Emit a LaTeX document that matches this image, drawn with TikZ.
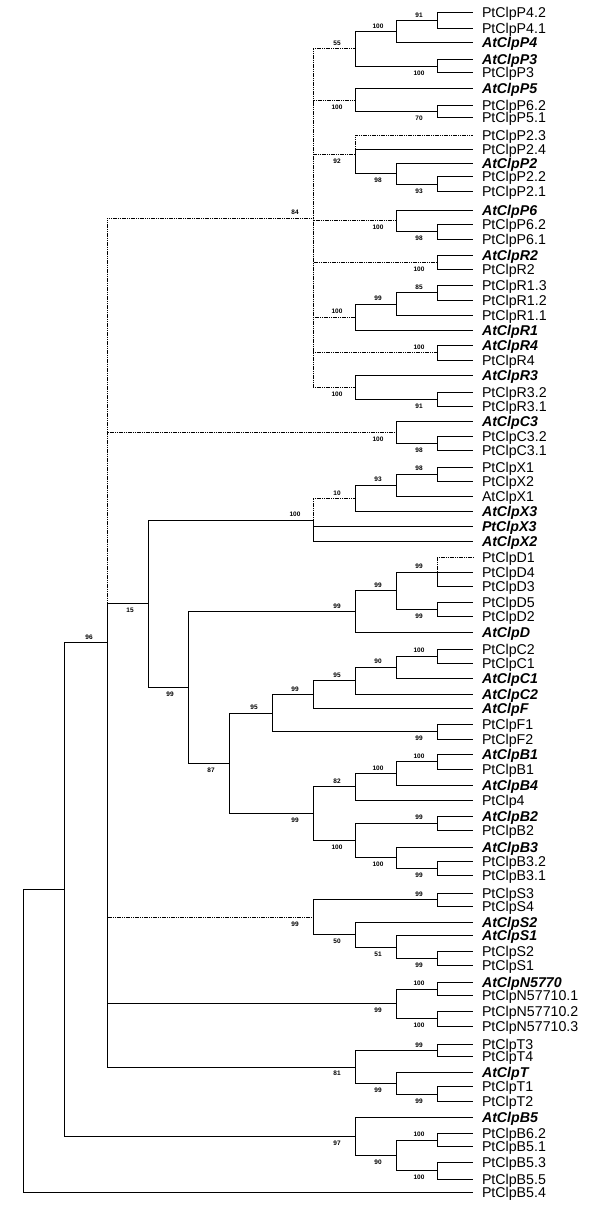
\documentclass[tikz,border=0pt]{standalone}
\usepackage{fontspec}
\setmainfont{Liberation Sans}
\usepackage{tikz}
\newcommand\ptfont{\fontsize{14.2}{14.2}\selectfont}
\newcommand\atfont{\fontsize{14.2}{14.2}\selectfont\bfseries\itshape}
\tikzset{
  br/.style={line width=0.8pt},
  weak/.style={line width=0.8pt,dash pattern=on 1.2pt off 0.6pt},
  tip/.style={anchor=west,inner xsep=9pt,inner ysep=0pt,outer sep=0pt,text depth=0pt},
  bs/.style={font=\fontsize{6.5}{6.5}\selectfont\bfseries,inner sep=0pt,xshift=-18pt},
  bsup/.style={bs,yshift=5.5pt},
  bsdn/.style={bs,yshift=-6.8pt}
}
% parent to children, |- branches
\newcommand\clade[3][br]{\foreach \c in {#3} \draw[#1] (#2) |- (\c);}
\newcommand\boot[3]{\node[bs#3] (bs-#1) at (#1) {#2};}

\begin{document}
\begin{tikzpicture}[x=1pt,y=-1pt]
\useasboundingbox (0,0) rectangle (600,1212);
% leaves
\foreach \y/\f/\n [count=\i] in {
  12.7/\ptfont/PtClpP4.2, 28/\ptfont/PtClpP4.1, 42.7/\atfont/AtClpP4,
  59.3/\atfont/AtClpP3, 72.7/\ptfont/PtClpP3,
  88.3/\atfont/AtClpP5, 105.7/\ptfont/PtClpP6.2, 117.7/\ptfont/PtClpP5.1,
  135/\ptfont/PtClpP2.3, 149/\ptfont/PtClpP2.4, 163.3/\atfont/AtClpP2, 176.7/\ptfont/PtClpP2.2, 191.7/\ptfont/PtClpP2.1,
  210/\atfont/AtClpP6, 224/\ptfont/PtClpP6.2, 239.3/\ptfont/PtClpP6.1,
  255.7/\atfont/AtClpR2, 269/\ptfont/PtClpR2,
  285.7/\ptfont/PtClpR1.3, 300/\ptfont/PtClpR1.2, 315.3/\ptfont/PtClpR1.1, 330/\atfont/AtClpR1,
  345/\atfont/AtClpR4, 360.7/\ptfont/PtClpR4,
  375/\atfont/AtClpR3, 392.3/\ptfont/PtClpR3.2, 406/\ptfont/PtClpR3.1,
  421.7/\atfont/AtClpC3, 436/\ptfont/PtClpC3.2, 450.7/\ptfont/PtClpC3.1,
  467.3/\ptfont/PtClpX1, 481/\ptfont/PtClpX2, 496/\ptfont/AtClpX1, 511.7/\atfont/AtClpX3,
  526.7/\atfont/PtClpX3, 541.7/\atfont/AtClpX2,
  557.7/\ptfont/PtClpD1, 572.3/\ptfont/PtClpD4, 586.7/\ptfont/PtClpD3, 602.3/\ptfont/PtClpD5,
  616.7/\ptfont/PtClpD2, 632.7/\atfont/AtClpD,
  649/\ptfont/PtClpC2, 663.3/\ptfont/PtClpC1, 678.3/\atfont/AtClpC1, 694/\atfont/AtClpC2,
  708.3/\atfont/AtClpF, 724/\ptfont/PtClpF1, 739/\ptfont/PtClpF2,
  754.3/\atfont/AtClpB1, 769.3/\ptfont/PtClpB1, 785/\atfont/AtClpB4, 800/\ptfont/PtClp4,
  816/\atfont/AtClpB2, 830/\ptfont/PtClpB2, 847.3/\atfont/AtClpB3, 861/\ptfont/PtClpB3.2, 875.7/\ptfont/PtClpB3.1,
  893.3/\ptfont/PtClpS3, 906/\ptfont/PtClpS4, 922.7/\atfont/AtClpS2, 935.7/\atfont/AtClpS1,
  951/\ptfont/PtClpS2, 965.7/\ptfont/PtClpS1,
  982.3/\atfont/AtClpN5770, 995.7/\ptfont/PtClpN57710.1, 1011/\ptfont/PtClpN57710.2, 1026/\ptfont/PtClpN57710.3,
  1044/\ptfont/PtClpT3, 1056.7/\ptfont/PtClpT4, 1072.7/\atfont/AtClpT, 1086.7/\ptfont/PtClpT1, 1101.7/\ptfont/PtClpT2,
  1117.3/\atfont/AtClpB5, 1133.3/\ptfont/PtClpB6.2, 1146.7/\ptfont/PtClpB5.1,
  1162.7/\ptfont/PtClpB5.3, 1179/\ptfont/PtClpB5.5, 1192.7/\ptfont/PtClpB5.4}
  \node[tip] (t\i) at (473,\y) {\f\n};

% inner nodes
\coordinate (p4a) at (437,20.35);  \coordinate (p4) at (396,31.5);
\coordinate (p3) at (437,66);      \coordinate (p43) at (355,48.75);
\coordinate (p5a) at (437,111.7);  \coordinate (p5) at (355,100);
\coordinate (p2a) at (437,184.2);  \coordinate (p2b) at (396,173.75);
\coordinate (p2) at (355,154.4);
\coordinate (p6a) at (437,231.65); \coordinate (p6) at (396,220.8);
\coordinate (r2) at (437,262.35);
\coordinate (r1a) at (437,292.85); \coordinate (r1b) at (396,304.1);
\coordinate (r1) at (355,317.05);
\coordinate (r4) at (437,352.85);
\coordinate (r3a) at (437,399.15); \coordinate (r3) at (355,387.1);
\coordinate (pr) at (313,217.9);
\coordinate (c3a) at (437,443.35); \coordinate (c3) at (396,432.5);
\coordinate (xa) at (437,474.15);  \coordinate (xb) at (396,485.1);
\coordinate (xc) at (355,498.4);   \coordinate (clx) at (313,520.05);
\coordinate (da) at (437,572.2);   \coordinate (db) at (437,609.5);
\coordinate (dc) at (396,590.85);  \coordinate (cld) at (355,611.8);
\coordinate (ca) at (437,656.15);  \coordinate (cb) at (396,667.2);
\coordinate (cc) at (355,680.6);   \coordinate (cf) at (313,694.45);
\coordinate (fa) at (437,731.5);   \coordinate (cff) at (272,712.98);
\coordinate (ba) at (437,761.8);   \coordinate (bb) at (396,773.4);
\coordinate (bc) at (355,786.7);
\coordinate (b2) at (437,823);     \coordinate (b3a) at (437,868.35);
\coordinate (b3) at (396,857.8);   \coordinate (b23) at (355,840.4);
\coordinate (clb) at (313,813.55); \coordinate (cfb) at (229,763.3);
\coordinate (dcb) at (188,687.5);  \coordinate (xdcb) at (148,603.8);
\coordinate (sa) at (437,899.65);  \coordinate (sb) at (437,958.35);
\coordinate (sc) at (396,947);     \coordinate (sd) at (355,934.85);
\coordinate (cls) at (313,917.25);
\coordinate (na) at (437,989);     \coordinate (nb) at (437,1018.5);
\coordinate (cln) at (396,1003.75);
\coordinate (ta) at (437,1050.35); \coordinate (tb) at (437,1094.2);
\coordinate (tc) at (396,1083.45); \coordinate (clt) at (355,1066.9);
\coordinate (b5a) at (437,1140);   \coordinate (b5b) at (437,1170.85);
\coordinate (b5c) at (396,1155.4); \coordinate (b5) at (355,1136.35);
\coordinate (n2) at (107,642.4);   \coordinate (n1) at (64,889.4);
\coordinate (n0) at (23,1041);

% ClpP / ClpR
\clade{p4a}{t1,t2} \clade{p4}{p4a,t3} \clade{p3}{t4,t5} \clade{p43}{p4,p3}
\clade{p5a}{t7,t8} \clade{p5}{t6,p5a}
\clade{p2a}{t12,t13} \clade{p2b}{t11,p2a} \clade[weak]{p2}{t9} \clade{p2}{t10,p2b}
\clade{p6a}{t15,t16} \clade{p6}{t14,p6a}
\clade{r2}{t17,t18}
\clade{r1a}{t19,t20} \clade{r1b}{r1a,t21} \clade{r1}{r1b,t22}
\clade{r4}{t23,t24}
\clade{r3a}{t26,t27} \clade{r3}{t25,r3a}
\clade[weak]{pr}{p43,p5,p2,p6,r2,r1,r4,r3}
% ClpC3, ClpX
\clade{c3a}{t29,t30} \clade{c3}{t28,c3a}
\clade{xa}{t31,t32} \clade{xb}{xa,t33} \clade{xc}{xb,t34}
\clade[weak]{clx}{xc} \clade{clx}{t35,t36}
% ClpD, ClpC, ClpF, ClpB
\clade[weak]{da}{t37} \clade{da}{t38,t39} \clade{db}{t40,t41}
\clade{dc}{da,db} \clade{cld}{dc,t42}
\clade{ca}{t43,t44} \clade{cb}{ca,t45} \clade{cc}{cb,t46} \clade{cf}{cc,t47}
\clade{fa}{t48,t49} \clade{cff}{cf,fa}
\clade{ba}{t50,t51} \clade{bb}{ba,t52} \clade{bc}{bb,t53}
\clade{b2}{t54,t55} \clade{b3a}{t57,t58} \clade{b3}{t56,b3a} \clade{b23}{b2,b3}
\clade{clb}{bc,b23} \clade{cfb}{cff,clb} \clade{dcb}{cld,cfb} \clade{xdcb}{clx,dcb}
% ClpS, ClpN, ClpT, ClpB5
\clade{sa}{t59,t60} \clade{sb}{t63,t64} \clade{sc}{t62,sb} \clade{sd}{t61,sc}
\clade{cls}{sa,sd}
\clade{na}{t65,t66} \clade{nb}{t67,t68} \clade{cln}{na,nb}
\clade{ta}{t69,t70} \clade{tb}{t72,t73} \clade{tc}{t71,tb} \clade{clt}{ta,tc}
\clade{b5a}{t75,t76} \clade{b5b}{t77,t78} \clade{b5c}{b5a,b5b} \clade{b5}{t74,b5c}
% backbone
\clade[weak]{n2}{pr,c3,cls} \clade{n2}{xdcb,cln,clt}
\clade{n1}{n2,b5} \clade{n0}{n1,t79}

% bootstrap values
\boot{p4a}{91}{up} \boot{p4}{100}{up} \boot{p3}{100}{dn} \boot{p43}{55}{up}
\boot{p5a}{70}{dn} \boot{p5}{100}{dn}
\boot{p2a}{93}{dn} \boot{p2b}{98}{dn} \boot{p2}{92}{dn}
\boot{p6a}{98}{dn} \boot{p6}{100}{dn} \boot{r2}{100}{dn}
\boot{r1a}{85}{up} \boot{r1b}{99}{up} \boot{r1}{100}{up}
\boot{r4}{100}{up} \boot{r3a}{91}{dn} \boot{r3}{100}{dn}
\boot{pr}{84}{up}
\boot{c3a}{98}{dn} \boot{c3}{100}{dn}
\boot{xa}{98}{up} \boot{xb}{93}{up} \boot{xc}{10}{up} \boot{clx}{100}{up}
\boot{da}{99}{up} \boot{db}{99}{dn} \boot{dc}{99}{up} \boot{cld}{99}{up}
\boot{ca}{100}{up} \boot{cb}{90}{up} \boot{cc}{95}{up} \boot{cf}{99}{up}
\boot{fa}{99}{dn} \boot{cff}{95}{up}
\boot{ba}{100}{up} \boot{bb}{100}{up} \boot{bc}{82}{up}
\boot{b2}{99}{up} \boot{b3a}{99}{dn} \boot{b3}{100}{dn} \boot{b23}{100}{dn}
\boot{clb}{99}{dn} \boot{cfb}{87}{dn} \boot{dcb}{99}{dn} \boot{xdcb}{15}{dn}
\boot{sa}{99}{up} \boot{sb}{99}{dn} \boot{sc}{51}{dn} \boot{sd}{50}{dn} \boot{cls}{99}{dn}
\boot{na}{100}{up} \boot{nb}{100}{dn} \boot{cln}{99}{dn}
\boot{ta}{99}{up} \boot{tb}{99}{dn} \boot{tc}{99}{dn} \boot{clt}{81}{dn}
\boot{b5a}{100}{up} \boot{b5b}{100}{dn} \boot{b5c}{90}{dn} \boot{b5}{97}{dn}
\boot{n2}{96}{up}
\end{tikzpicture}
\end{document}
